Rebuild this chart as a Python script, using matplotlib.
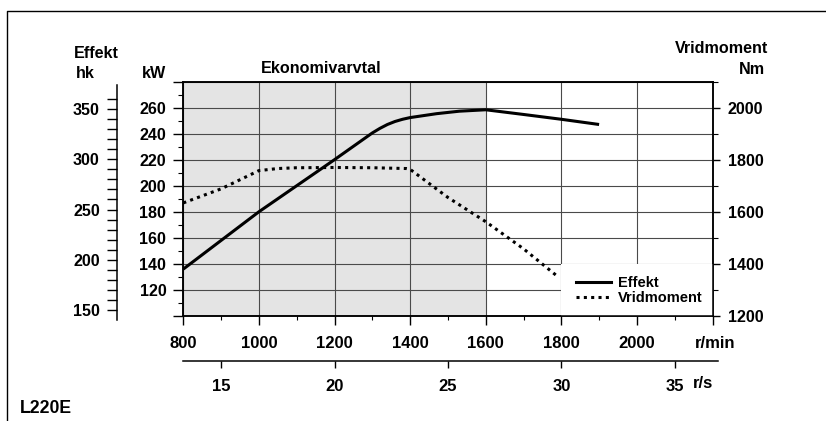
import matplotlib
matplotlib.use('Agg')
import matplotlib.pyplot as plt
from matplotlib.patches import Rectangle
from matplotlib.lines import Line2D

plt.rcParams['font.family'] = ['Liberation Sans', 'DejaVu Sans']
plt.rcParams['font.weight'] = 'bold'

# data
rpm_effekt = [800, 900, 1000, 1100, 1200, 1300, 1320, 1340, 1360, 1380, 1400,
              1470, 1530, 1600, 1700, 1800, 1900]
effekt_kw = [136, 158, 180, 200, 220, 240.5, 244, 247, 249.3, 251, 252.3,
             255.3, 257.2, 258.3, 254.7, 251, 247]

rpm_torque = [800, 900, 1000, 1050, 1100, 1200, 1300, 1390, 1400, 1450, 1500, 1600, 1700, 1790]
torque_nm = [1634, 1688, 1758, 1766, 1769, 1770, 1769, 1766, 1763, 1709, 1655, 1562, 1458, 1352]

rpm_ticks = [800, 1000, 1200, 1400, 1600, 1800, 2000, 2200]
rpm_labels = ['800', '1000', '1200', '1400', '1600', '1800', '2000', '']
rps_ticks = [15, 20, 25, 30, 35]
kw_ticks = [100, 120, 140, 160, 180, 200, 220, 240, 260, 280]
kw_labels = ['', '120', '140', '160', '180', '200', '220', '240', '260', '']
nm_ticks = [1200, 1400, 1600, 1800, 2000]
hk_ticks = [150, 200, 250, 300, 350]

W, H = 826, 421
FS = 11.6


def box(l, t, r, b):
    return [l / W, (H - b) / H, (r - l) / W, (b - t) / H]


def ftext(x, y, s, **kw):
    fig.text(x / W, 1 - y / H, s, fontsize=kw.pop('fontsize', FS), fontweight='bold', **kw)


fig = plt.figure(figsize=(W / 100, H / 100), dpi=100)

# main axes (kW)
ax = fig.add_axes(box(183.3, 81.5, 712.5, 316))
ax.set_xlim(800, 2200)
ax.set_ylim(100, 280)
ax.axvspan(800, 1600, color='#e4e4e4', zorder=0, lw=0)
ax.set_xticks(rpm_ticks)
ax.set_xticklabels(rpm_labels)
ax.set_xticks(range(900, 2200, 200), minor=True)
ax.set_yticks(kw_ticks)
ax.set_yticklabels(kw_labels)
ax.set_yticks(range(110, 280, 20), minor=True)
ax.grid(True, which='major', color='#4a4a4a', lw=0.8)
ax.tick_params(axis='x', which='major', length=6.5, width=1, pad=8, labelsize=FS + 0.4)
ax.tick_params(axis='x', which='minor', length=3, width=0.8)
ax.tick_params(axis='y', which='major', length=7.2, width=1, pad=5, labelsize=FS)
ax.tick_params(axis='y', which='minor', length=3.6, width=0.8)
for s in ax.spines.values():
    s.set_linewidth(1.1)
ax.plot(rpm_effekt, effekt_kw, color='black', lw=2.2, solid_capstyle='butt', zorder=3)

# torque axis (Nm)
ax2 = ax.twinx()
ax2.set_ylim(1200, 2100)
ax2.set_yticks(nm_ticks)
ax2.set_yticks(range(1300, 2101, 200), minor=True)
ax2.tick_params(axis='y', which='major', length=5, width=1, pad=6, labelsize=FS)
ax2.tick_params(axis='y', which='minor', length=3.5, width=0.8)
for s in ax2.spines.values():
    s.set_linewidth(1.1)
ax2.add_patch(Rectangle((1800, 1200), 400, 200, facecolor='white', edgecolor='none', zorder=1.5))
ax2.plot(rpm_torque, torque_nm, color='black', lw=2.2, ls=(0, (1, 1.4)), dash_capstyle='butt', zorder=3)

handles = [Line2D([], [], color='black', lw=2.2),
           Line2D([], [], color='black', lw=2.2, ls=(0, (1, 1.4)))]
ax2.legend(handles, ['Effekt', 'Vridmoment'], loc='center left',
           bbox_to_anchor=((576 - 183.3) / 529.2, (316 - 290.5) / 234.5),
           bbox_transform=ax.transAxes, frameon=False, borderpad=0, borderaxespad=0,
           handlelength=2.4, handletextpad=0.45, labelspacing=0.12,
           prop={'size': 10.5, 'weight': 'bold'})

# hk axis
axh = fig.add_axes(box(116.7, 85, 117.7, 320))
axh.patch.set_visible(False)
for k in ['right', 'top', 'bottom']:
    axh.spines[k].set_visible(False)
axh.spines['left'].set_linewidth(1.1)
axh.set_ylim(140, 374)
axh.set_xticks([])
axh.set_yticks(hk_ticks)
axh.set_yticks([v for v in range(160, 370, 10) if v % 50], minor=True)
axh.tick_params(axis='y', which='both', length=7.2, width=1, pad=5, labelsize=FS)

# r/s axis
axs = fig.add_axes(box(183.3, 355, 718, 361))
axs.patch.set_visible(False)
for k in ['left', 'right', 'top']:
    axs.spines[k].set_visible(False)
axs.spines['bottom'].set_linewidth(1.1)
axs.set_xlim(800 / 60, 2214.5 / 60)
axs.set_yticks([])
axs.set_xticks(rps_ticks)
axs.tick_params(axis='x', length=5, width=1, pad=8, labelsize=FS + 0.4)

# texts
ftext(96, 58.3, 'Effekt', ha='center', va='baseline')
ftext(76, 78, 'hk', ha='left', va='baseline')
ftext(166, 78, 'kW', ha='right', va='baseline')
ftext(768, 52.7, 'Vridmoment', ha='right', va='baseline')
ftext(765, 74, 'Nm', ha='right', va='baseline')
ftext(321, 72.7, 'Ekonomivarvtal', ha='center', va='baseline')
ftext(715, 343, 'r/min', ha='center', va='center', fontsize=FS + 0.4)
ftext(703, 384, 'r/s', ha='center', va='center', fontsize=FS + 0.4)
ftext(20, 412.7, 'L220E', ha='left', va='baseline', fontsize=12.7)

# outer frame (top and left edges)
fig.add_artist(Line2D([7.3 / W, 7.3 / W, 1], [0, 1 - 10.7 / H, 1 - 10.7 / H],
                      transform=fig.transFigure, color='black', lw=1))

fig.savefig('out.png', dpi=100)
